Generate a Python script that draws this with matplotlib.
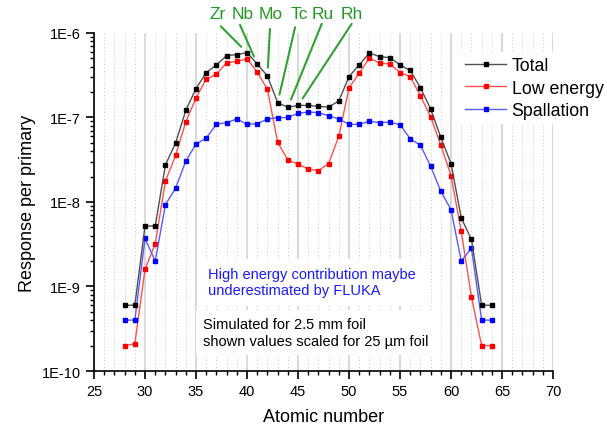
import numpy as np
import matplotlib
matplotlib.use('Agg')
import matplotlib.pyplot as plt
from matplotlib.ticker import MultipleLocator, LogLocator, FuncFormatter, NullFormatter

plt.rcParams['font.family'] = ['Liberation Sans', 'DejaVu Sans']

# response per primary vs atomic number
atomic_number = list(range(28, 65))
total = [6.0e-10, 6.0e-10, 5.2e-9, 5.2e-9, 2.75e-8, 5.0e-8, 1.22e-7, 2.2e-7, 3.4e-7,
         4.2e-7, 5.4e-7, 5.55e-7, 5.85e-7, 4.3e-7, 3.1e-7, 1.5e-7, 1.32e-7, 1.39e-7,
         1.39e-7, 1.35e-7, 1.33e-7, 1.57e-7, 3.05e-7, 4.2e-7, 5.8e-7, 5.25e-7, 5.1e-7,
         4.2e-7, 3.6e-7, 2.25e-7, 1.26e-7, 5.8e-8, 2.85e-8, 6.5e-9, 3.6e-9, 6.0e-10,
         6.0e-10]
low_energy = [2.0e-10, 2.1e-10, 1.6e-9, 3.2e-9, 1.77e-8, 3.55e-8, 8.9e-8, 1.7e-7, 2.85e-7,
              3.25e-7, 4.45e-7, 4.6e-7, 4.95e-7, 3.45e-7, 2.15e-7, 5.1e-8, 3.15e-8, 2.8e-8,
              2.45e-8, 2.35e-8, 2.85e-8, 6.0e-8, 2.25e-7, 3.35e-7, 5.05e-7, 4.4e-7, 4.3e-7,
              3.4e-7, 3.05e-7, 1.8e-7, 1.02e-7, 4.7e-8, 2.05e-8, 4.5e-9, 7.5e-10, 2.0e-10,
              2.0e-10]
spallation = [4.0e-10, 4.0e-10, 3.7e-9, 2.0e-9, 9.3e-9, 1.46e-8, 3.05e-8, 4.85e-8, 5.7e-8,
              8.3e-8, 8.7e-8, 9.6e-8, 8.3e-8, 8.45e-8, 9.6e-8, 9.95e-8, 1.0e-7, 1.12e-7,
              1.16e-7, 1.14e-7, 1.05e-7, 9.6e-8, 8.3e-8, 8.3e-8, 9.0e-8, 8.7e-8, 8.8e-8,
              8.2e-8, 5.6e-8, 4.7e-8, 2.65e-8, 1.34e-8, 8.1e-9, 2.0e-9, 2.85e-9, 4.0e-10,
              4.0e-10]

# element labels above the plot and where their pointer lines start
elements = ['Zr', 'Nb', 'Mo', 'Tc', 'Ru', 'Rh']
element_z = [40, 41, 42, 43, 44, 45]
label_x = [37.16, 39.61, 42.35, 45.1, 47.45, 50.29]
line_start = [(37.42, 1.020), (39.31, 1.024), (42.25, 1.012),
              (44.71, 1.017), (47.32, 1.027), (50.26, 1.027)]

fig = plt.figure(figsize=(6.07, 4.27), dpi=100)
ax = fig.add_axes([0.1549, 0.1288, 0.7562, 0.7916])

ax.plot(atomic_number, total, color='#505050', lw=1.0, marker='s', ms=2.3,
        mfc='black', mec='black', label='Total', zorder=4)
ax.plot(atomic_number, low_energy, color='#ff5050', lw=1.0, marker='s', ms=2.3,
        mfc='#ff0000', mec='#ff0000', label='Low energy', zorder=3)
ax.plot(atomic_number, spallation, color='#5a5aff', lw=1.0, marker='s', ms=2.3,
        mfc='#0000ff', mec='#0000ff', label='Spallation', zorder=3)

ax.set_yscale('log')
ax.set_xlim(25, 70)
ax.set_ylim(1e-10, 1e-6)

ax.xaxis.set_major_locator(MultipleLocator(5))
ax.xaxis.set_minor_locator(MultipleLocator(1))
ax.yaxis.set_major_locator(LogLocator(base=10, numticks=10))
ax.yaxis.set_minor_locator(LogLocator(base=10, subs=np.arange(2, 10), numticks=10))
ax.yaxis.set_major_formatter(FuncFormatter(lambda v, p: '1E%d' % round(np.log10(v))))
ax.yaxis.set_minor_formatter(NullFormatter())

ax.tick_params(which='major', direction='out', length=6, width=1.2, labelsize=10.5)
ax.tick_params(which='minor', direction='out', length=3, width=1.0)

for side in ['top', 'right']:
    ax.spines[side].set_visible(False)
for side in ['left', 'bottom']:
    ax.spines[side].set_linewidth(1.2)

ax.set_axisbelow(True)
ax.grid(axis='x', which='major', color='#dadada', lw=1.5, ls='-')
ax.grid(axis='x', which='minor', color='#c8c8c8', lw=0.7, ls=(0, (1, 2.5)))

ax.set_xlabel('Atomic number', fontsize=13, labelpad=7)
ax.set_ylabel('Response per primary', fontsize=13, labelpad=4)

# element labels with pointer lines to the total curve
green = '#229922'
xtrans = ax.get_xaxis_transform()
for name, z, lx, start in zip(elements, element_z, label_x, line_start):
    ax.text(lx, 1.059, name, transform=xtrans, ha='center', va='center',
            fontsize=12.5, color=green, clip_on=False)
    i = atomic_number.index(z)
    ax.annotate('', xy=(z, total[i]), xycoords='data', xytext=start,
                textcoords=xtrans, annotation_clip=False,
                arrowprops=dict(arrowstyle='-', color='#33a033', lw=1.5,
                                shrinkA=0, shrinkB=6))

ax.text(36.18, 0.263, 'High energy contribution maybe\nunderestimated by FLUKA',
        transform=xtrans, color='#1a1aff', fontsize=10.5, ha='left', va='center',
        linespacing=1.2, zorder=2,
        bbox=dict(facecolor='white', edgecolor='none', pad=6))
ax.text(35.69, 0.114, 'Simulated for 2.5 mm foil\nshown values scaled for 25 µm foil',
        transform=xtrans, color='black', fontsize=10.5, ha='left', va='center',
        linespacing=1.2, zorder=2,
        bbox=dict(facecolor='white', edgecolor='none', pad=5))

ax.legend(loc='upper left', bbox_to_anchor=(0.758, 0.876), bbox_transform=fig.transFigure,
          fontsize=12.8, frameon=True, facecolor='white', edgecolor='none', framealpha=1,
          fancybox=False, handlelength=2.3, handletextpad=0.3, labelspacing=0.3,
          borderpad=0.3, borderaxespad=0)

fig.savefig('out.png', dpi=100)
